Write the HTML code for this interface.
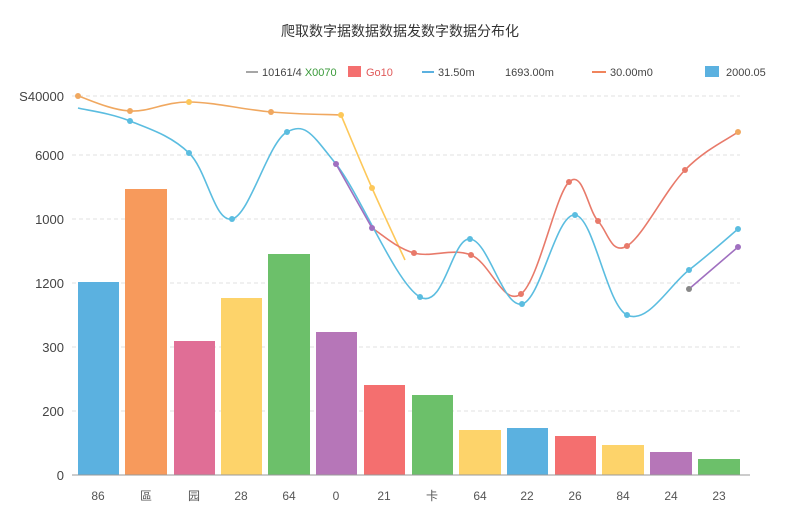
<!DOCTYPE html>
<html><head><meta charset="utf-8"><style>
body{margin:0;background:#fff;width:800px;height:512px;overflow:hidden}
text{font-family:"Liberation Sans","Noto Sans CJK SC",sans-serif}
</style></head><body>
<svg id="s" width="800" height="512" viewBox="0 0 800 512">
<text x="400" y="36" font-size="14" text-anchor="middle" fill="#333">爬取数字据数据数据发数字数据分布化</text>
<g font-size="11" fill="#444">
<line x1="246" y1="72" x2="258" y2="72" stroke="#888" stroke-width="1.5"/><text x="262" y="76">10161/4 <tspan fill="#3a9a3a">X0070</tspan></text>
<rect x="348" y="66" width="13" height="11" fill="#f46f6f"/><text x="366" y="76" fill="#e05a5a">Go10</text>
<line x1="422" y1="72" x2="434" y2="72" stroke="#5bb1e0" stroke-width="2"/><text x="438" y="76">31.50m</text>
<text x="505" y="76">1693.00m</text>
<line x1="592" y1="72" x2="606" y2="72" stroke="#f0845c" stroke-width="2"/><text x="610" y="76">30.00m0</text>
<rect x="705" y="66" width="14" height="11" fill="#5bb1e0"/><text x="726" y="76">2000.05</text>
</g>
<g stroke="#e2e2e2" stroke-dasharray="4,3">
<line x1="72" y1="96" x2="740" y2="96"/><line x1="72" y1="155" x2="740" y2="155"/><line x1="72" y1="219" x2="740" y2="219"/><line x1="72" y1="283" x2="740" y2="283"/><line x1="72" y1="347" x2="740" y2="347"/><line x1="72" y1="411" x2="740" y2="411"/>
</g>
<g font-size="13" fill="#444" text-anchor="end">
<text x="64" y="101">S40000</text><text x="64" y="160">6000</text><text x="64" y="224">1000</text><text x="64" y="288">1200</text><text x="64" y="352">300</text><text x="64" y="416">200</text><text x="64" y="480">0</text>
</g>
<g>
<rect x="78" y="282" width="41" height="193" fill="#5bb1e0"/>
<rect x="125" y="189" width="42" height="286" fill="#f79a5c"/>
<rect x="174" y="341" width="41" height="134" fill="#e06e96"/>
<rect x="221" y="298" width="41" height="177" fill="#fdd36a"/>
<rect x="268" y="254" width="42" height="221" fill="#6cc06a"/>
<rect x="316" y="332" width="41" height="143" fill="#b676b8"/>
<rect x="364" y="385" width="41" height="90" fill="#f46f6f"/>
<rect x="412" y="395" width="41" height="80" fill="#6cc06a"/>
<rect x="459" y="430" width="42" height="45" fill="#fdd36a"/>
<rect x="507" y="428" width="41" height="47" fill="#5bb1e0"/>
<rect x="555" y="436" width="41" height="39" fill="#f46f6f"/>
<rect x="602" y="445" width="42" height="30" fill="#fdd36a"/>
<rect x="650" y="452" width="42" height="23" fill="#b676b8"/>
<rect x="698" y="459" width="42" height="16" fill="#6cc06a"/>
</g>
<line x1="72" y1="475" x2="750" y2="475" stroke="#999"/>
<g id="lines" fill="none" stroke-width="1.6"></g>
<g>
<circle cx="78" cy="96" r="3" fill="#f0a860"/><circle cx="130" cy="111" r="3" fill="#f0a860"/><circle cx="189" cy="102" r="3" fill="#fdc85a"/><circle cx="271" cy="112" r="3" fill="#f0a860"/><circle cx="341" cy="115" r="3" fill="#fdc85a"/><circle cx="372" cy="188" r="3" fill="#fdc85a"/>
<circle cx="414" cy="253" r="3" fill="#e87a6a"/><circle cx="471" cy="255" r="3" fill="#e87a6a"/><circle cx="521" cy="294" r="3" fill="#e87a6a"/><circle cx="569" cy="182" r="3" fill="#e87a6a"/><circle cx="598" cy="221" r="3" fill="#e87a6a"/><circle cx="627" cy="246" r="3" fill="#e87a6a"/><circle cx="685" cy="170" r="3" fill="#e87a6a"/><circle cx="738" cy="132" r="3" fill="#f0a860"/>
<circle cx="130" cy="121" r="3" fill="#5bbde0"/><circle cx="189" cy="153" r="3" fill="#5bbde0"/><circle cx="232" cy="219" r="3" fill="#5bbde0"/><circle cx="287" cy="132" r="3" fill="#5bbde0"/><circle cx="336" cy="164" r="3" fill="#a070c0"/><circle cx="372" cy="228" r="3" fill="#a070c0"/><circle cx="420" cy="297" r="3" fill="#5bbde0"/><circle cx="470" cy="239" r="3" fill="#5bbde0"/><circle cx="522" cy="304" r="3" fill="#5bbde0"/><circle cx="575" cy="215" r="3" fill="#5bbde0"/><circle cx="627" cy="315" r="3" fill="#5bbde0"/><circle cx="689" cy="270" r="3" fill="#5bbde0"/><circle cx="738" cy="229" r="3" fill="#5bbde0"/><circle cx="689" cy="289" r="3" fill="#888"/><circle cx="738" cy="247" r="3" fill="#a070c0"/>
</g>
<g font-size="12" fill="#555" text-anchor="middle">
<text x="98" y="500">86</text><text x="146" y="500">區</text><text x="194" y="500">园</text><text x="241" y="500">28</text><text x="289" y="500">64</text><text x="336" y="500">0</text><text x="384" y="500">21</text><text x="432" y="500">卡</text><text x="480" y="500">64</text><text x="527" y="500">22</text><text x="575" y="500">26</text><text x="623" y="500">84</text><text x="671" y="500">24</text><text x="719" y="500">23</text>
</g>
</svg>
<script>
var L=[["#f0a860",[[78,96],[130,111],[189,102],[271,112],[341,115]]],
["#fdc85a",[[341,115],[372,188],[405,260]]],
["#e87a6a",[[372,228],[414,253],[471,255],[521,294],[569,182],[598,221],[627,246],[685,170],[738,132]]],
["#5bbde0",[[78,108],[130,121],[189,153],[232,219],[287,132],[336,164],[420,297],[470,239],[522,304],[575,215],[627,315],[689,270],[738,229]]],
["#a070c0",[[336,164],[372,228]]],["#a070c0",[[689,289],[738,247]]]];
var g=document.getElementById("lines"),t=0.18;
L.forEach(function(l){var p=l[1],d="M"+p[0];
for(var i=0;i<p.length-1;i++){var a=p[i-1]||p[i],b=p[i],c=p[i+1],e=p[i+2]||c;
d+=" C"+(b[0]+(c[0]-a[0])*t)+","+(b[1]+(c[1]-a[1])*t)+" "+(c[0]-(e[0]-b[0])*t)+","+(c[1]-(e[1]-b[1])*t)+" "+c;}
var pa=document.createElementNS("http://www.w3.org/2000/svg","path");pa.setAttribute("d",d);pa.setAttribute("stroke",l[0]);g.appendChild(pa);});
</script>
</body></html>
